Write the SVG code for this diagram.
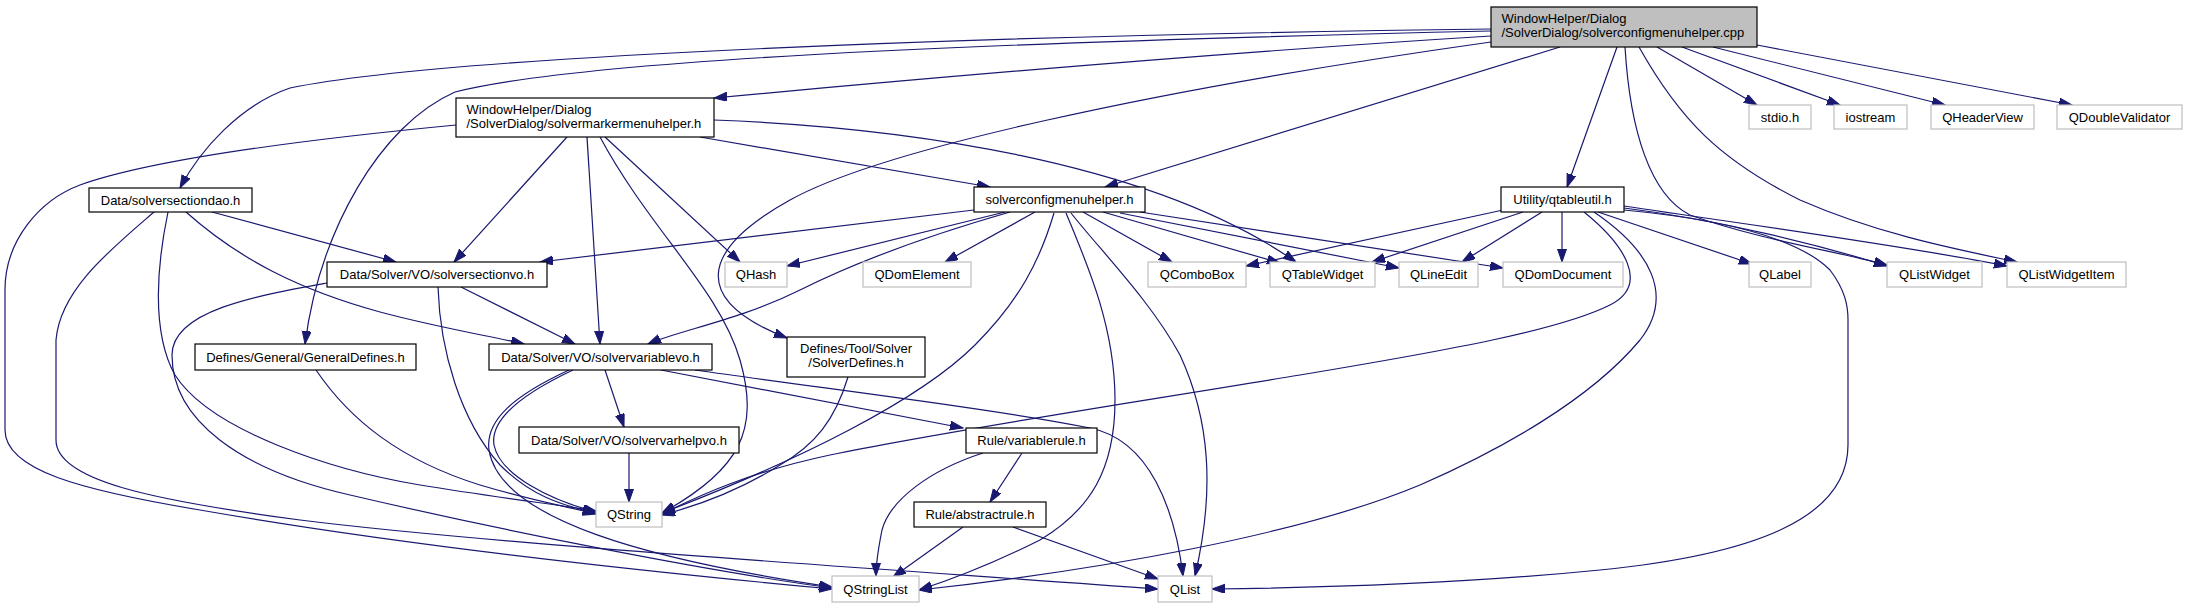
<svg xmlns="http://www.w3.org/2000/svg" width="2187" height="608" viewBox="0 0 2187 608">
<style>
text{font-family:"Liberation Sans",Arial,Helvetica,sans-serif;font-size:13px;fill:#000}
.c{text-anchor:middle}
.l{text-anchor:start}
.d rect{fill:#fff;stroke:#000;stroke-width:1.2}
.x rect{fill:#fff;stroke:#bfbfbf;stroke-width:1.2}
.m rect{fill:#bfbfbf;stroke:#000;stroke-width:1.2}
#edges path{fill:none;stroke:#191970;stroke-width:1.2;marker-end:url(#a)}
</style>
<defs>
<marker id="a" markerUnits="userSpaceOnUse" markerWidth="14" markerHeight="10" refX="13" refY="4.5" orient="auto" viewBox="0 0 14 10">
<path d="M0,0 L13,4.5 L0,9 z" fill="#191970" stroke="#191970" stroke-width="1"/>
</marker>
</defs>
<rect width="2187" height="608" fill="#fff"/>
<g id="edges">
<path d="M1491,36 C1230,52 950,76 714,98"/>
<path d="M1491,29 C1000,35 450,55 290,88 C240,105 200,150 180,188"/>
<path d="M1491,31 C1100,40 600,55 455,92 C380,125 320,230 305,344"/>
<path d="M1491,42 C1150,90 880,150 790,200 C700,250 690,300 787,338"/>
<path d="M1560,47 L1105,187"/>
<path d="M1617,47 L1567,187"/>
<path d="M1625,47 C1630,130 1650,195 1690,215 C1760,240 1840,252 1887,265"/>
<path d="M1639,47 C1680,120 1720,160 1800,200 C1880,235 1960,250 2017,262"/>
<path d="M1657,47 L1757,105"/>
<path d="M1682,47 L1840,105"/>
<path d="M1713,47 L1945,105"/>
<path d="M1757,45 L2072,105"/>
<path d="M700,137 L990,187"/>
<path d="M714,120 C900,127 1150,160 1296,262"/>
<path d="M567,137 L454,262"/>
<path d="M587,137 L600,344"/>
<path d="M605,137 L740,262"/>
<path d="M600,137 C650,230 720,290 740,360 C760,430 740,470 662,513"/>
<path d="M456,125 C300,140 150,160 80,185 C40,200 5,240 5,290 L5,430 C5,470 80,490 200,510 C400,545 650,572 832,589"/>
<path d="M212,212 L396,262"/>
<path d="M186,212 C240,260 300,290 380,312 C440,328 490,336 524,344"/>
<path d="M168,212 C158,260 150,330 175,375 C210,430 330,470 420,485 C500,498 560,505 596,511"/>
<path d="M154,212 C110,250 60,290 56,340 L56,440 C56,480 150,500 300,520 C500,545 900,570 1158,589"/>
<path d="M461,287 L575,344"/>
<path d="M438,287 C440,350 460,420 500,465 C530,495 560,505 596,513"/>
<path d="M327,283 C260,295 172,310 172,355 C172,420 240,470 350,495 C500,530 700,570 832,588"/>
<path d="M316,370 C350,420 400,460 480,485 C530,500 565,506 596,514"/>
<path d="M605,370 L624,427"/>
<path d="M573,370 C520,395 490,420 494,445 C500,475 550,500 596,512"/>
<path d="M569,370 C515,395 485,420 489,450 C500,520 650,560 832,587"/>
<path d="M661,370 L963,428"/>
<path d="M695,370 C850,392 1000,410 1090,428 C1150,440 1175,510 1183,576"/>
<path d="M974,210 L540,262"/>
<path d="M1005,212 L787,266"/>
<path d="M1010,212 C930,235 860,260 800,290 C740,320 680,330 648,344"/>
<path d="M1035,212 L945,262"/>
<path d="M1054,213 C1040,260 1020,300 975,345 C920,400 800,460 662,513"/>
<path d="M1066,213 C1090,270 1115,330 1115,400 C1115,470 1090,510 1040,540 C990,565 950,580 919,590"/>
<path d="M1071,213 C1100,250 1150,300 1180,355 C1210,420 1215,490 1195,576"/>
<path d="M1083,212 L1172,262"/>
<path d="M1103,212 L1280,263"/>
<path d="M1120,213 L1399,268"/>
<path d="M1140,212 L1503,268"/>
<path d="M1503,210 L1246,266"/>
<path d="M1523,212 L1372,262"/>
<path d="M1542,212 L1462,262"/>
<path d="M1562,212 L1562,262"/>
<path d="M1598,212 L1752,264"/>
<path d="M1624,208 C1720,220 1820,245 1887,266"/>
<path d="M1624,206 C1750,225 1900,245 2007,266"/>
<path d="M1584,212 C1625,245 1650,285 1610,305 C1560,330 1450,350 1300,375 C1150,400 950,430 830,455 C750,472 700,495 662,514"/>
<path d="M1594,212 C1650,250 1675,295 1640,340 C1590,400 1500,450 1420,485 C1300,535 1100,570 919,590"/>
<path d="M1624,210 C1730,220 1800,240 1830,270 C1845,290 1848,305 1848,320 L1848,445 C1848,520 1750,555 1600,570 C1450,585 1300,588 1212,589"/>
<path d="M848,377 C835,420 815,445 780,465 C740,490 700,505 662,515"/>
<path d="M629,453 L629,502"/>
<path d="M1022,453 L990,502"/>
<path d="M983,453 C930,470 890,500 882,530 C878,550 876,565 876,576"/>
<path d="M963,527 L893,577"/>
<path d="M1013,527 L1158,579"/>
</g>
<g id="n_main" class="m"><rect x="1491" y="7" width="266" height="40"/><text class="l" x="1501.5" y="23">WindowHelper/Dialog</text><text class="l" x="1501.5" y="37">/SolverDialog/solverconfigmenuhelper.cpp</text></g>
<g id="n_marker" class="d"><rect x="456" y="98" width="258" height="39"/><text class="l" x="466.5" y="114">WindowHelper/Dialog</text><text class="l" x="466.5" y="128">/SolverDialog/solvermarkermenuhelper.h</text></g>
<g id="n_dao" class="d"><rect x="89" y="188" width="163" height="24"/><text class="c" x="170.5" y="204.5">Data/solversectiondao.h</text></g>
<g id="n_sch" class="d"><rect x="974" y="187" width="171" height="25"/><text class="c" x="1059.5" y="204">solverconfigmenuhelper.h</text></g>
<g id="n_qtu" class="d"><rect x="1501" y="187" width="123" height="25"/><text class="c" x="1562.5" y="204">Utility/qtableutil.h</text></g>
<g id="n_stdio" class="x"><rect x="1749" y="105" width="62" height="24"/><text class="c" x="1780" y="121.5">stdio.h</text></g>
<g id="n_iostream" class="x"><rect x="1834" y="105" width="73" height="24"/><text class="c" x="1870.5" y="121.5">iostream</text></g>
<g id="n_qheaderview" class="x"><rect x="1931" y="105" width="103" height="24"/><text class="c" x="1982.5" y="121.5">QHeaderView</text></g>
<g id="n_qdoublevalidator" class="x"><rect x="2057" y="105" width="125" height="24"/><text class="c" x="2119.5" y="121.5">QDoubleValidator</text></g>
<g id="n_ssvo" class="d"><rect x="327" y="262" width="220" height="25"/><text class="c" x="437" y="279">Data/Solver/VO/solversectionvo.h</text></g>
<g id="n_qhash" class="x"><rect x="725" y="262" width="62" height="25"/><text class="c" x="756" y="279">QHash</text></g>
<g id="n_qdomelement" class="x"><rect x="863" y="262" width="108" height="25"/><text class="c" x="917" y="279">QDomElement</text></g>
<g id="n_qcombobox" class="x"><rect x="1148" y="262" width="98" height="25"/><text class="c" x="1197" y="279">QComboBox</text></g>
<g id="n_qtablewidget" class="x"><rect x="1270" y="262" width="105" height="25"/><text class="c" x="1322.5" y="279">QTableWidget</text></g>
<g id="n_qlineedit" class="x"><rect x="1399" y="262" width="79" height="25"/><text class="c" x="1438.5" y="279">QLineEdit</text></g>
<g id="n_qdomdocument" class="x"><rect x="1503" y="262" width="120" height="25"/><text class="c" x="1563" y="279">QDomDocument</text></g>
<g id="n_qlabel" class="x"><rect x="1749" y="262" width="62" height="25"/><text class="c" x="1780" y="279">QLabel</text></g>
<g id="n_qlistwidget" class="x"><rect x="1887" y="262" width="95" height="25"/><text class="c" x="1934.5" y="279">QListWidget</text></g>
<g id="n_qlistwidgetitem" class="x"><rect x="2007" y="262" width="119" height="25"/><text class="c" x="2066.5" y="279">QListWidgetItem</text></g>
<g id="n_gendef" class="d"><rect x="195" y="344" width="221" height="26"/><text class="c" x="305.5" y="361.5">Defines/General/GeneralDefines.h</text></g>
<g id="n_svv" class="d"><rect x="489" y="344" width="223" height="26"/><text class="c" x="600.5" y="361.5">Data/Solver/VO/solvervariablevo.h</text></g>
<g id="n_solverdef" class="d"><rect x="787" y="337" width="138" height="40"/><text class="c" x="856" y="353">Defines/Tool/Solver</text><text class="c" x="856" y="367">/SolverDefines.h</text></g>
<g id="n_svh" class="d"><rect x="519" y="427" width="220" height="26"/><text class="c" x="629" y="444.5">Data/Solver/VO/solvervarhelpvo.h</text></g>
<g id="n_varrule" class="d"><rect x="966" y="428" width="131" height="25"/><text class="c" x="1031.5" y="445">Rule/variablerule.h</text></g>
<g id="n_qstring" class="x"><rect x="596" y="502" width="66" height="25"/><text class="c" x="629" y="519">QString</text></g>
<g id="n_absrule" class="d"><rect x="914" y="502" width="132" height="25"/><text class="c" x="980" y="519">Rule/abstractrule.h</text></g>
<g id="n_qstringlist" class="x"><rect x="832" y="576" width="87" height="26"/><text class="c" x="875.5" y="593.5">QStringList</text></g>
<g id="n_qlist" class="x"><rect x="1158" y="576" width="54" height="26"/><text class="c" x="1185" y="593.5">QList</text></g>
</svg>
